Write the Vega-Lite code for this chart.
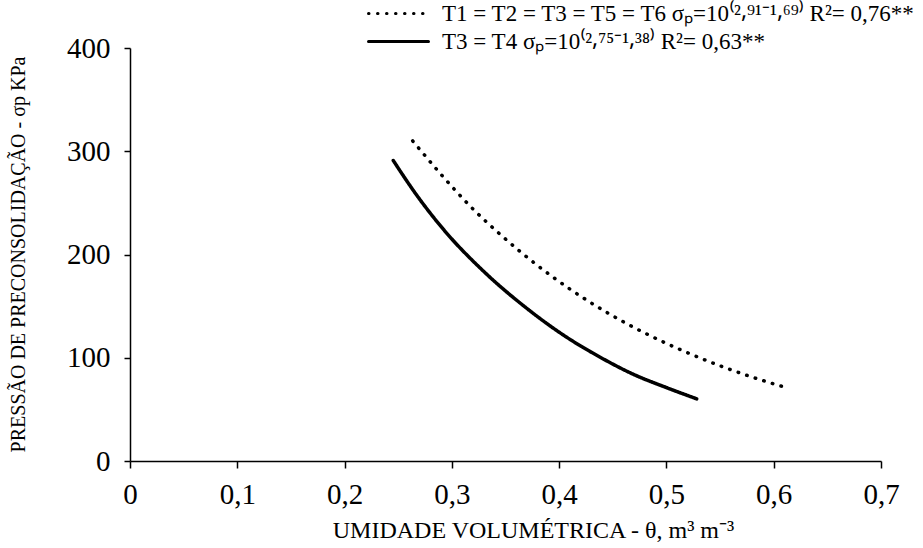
{
  "$schema": "https://vega.github.io/schema/vega-lite/v6.json",
  "width": 751,
  "height": 413,
  "autosize": {"type": "none"},
  "padding": {"left": 130, "top": 48, "right": 42, "bottom": 87},
  "background": "white",
  "config": {
    "view": {"stroke": null},
    "font": "Liberation Serif",
    "legend": {"labelFont": "Liberation Serif"},
    "axis": {"grid": false, "domainColor": "black", "tickColor": "black", "labelColor": "black", "titleColor": "black", "labelFont": "Liberation Serif", "titleFont": "Liberation Serif", "titleFontWeight": "normal", "domainWidth": 1.5, "tickWidth": 1.5}
  },
  "data": {
    "values": [
      {"theta": 0.2635, "sp": 310, "s": "T1 = T2 = T3 = T5 = T6 σₚ=10⁽²⸴⁹¹⁻¹⸴⁶⁹⁾ R²= 0,76**"},
      {"theta": 0.2896, "sp": 278, "s": "T1 = T2 = T3 = T5 = T6 σₚ=10⁽²⸴⁹¹⁻¹⸴⁶⁹⁾ R²= 0,76**"},
      {"theta": 0.3169, "sp": 247, "s": "T1 = T2 = T3 = T5 = T6 σₚ=10⁽²⸴⁹¹⁻¹⸴⁶⁹⁾ R²= 0,76**"},
      {"theta": 0.3467, "sp": 218, "s": "T1 = T2 = T3 = T5 = T6 σₚ=10⁽²⸴⁹¹⁻¹⸴⁶⁹⁾ R²= 0,76**"},
      {"theta": 0.3778, "sp": 191, "s": "T1 = T2 = T3 = T5 = T6 σₚ=10⁽²⸴⁹¹⁻¹⸴⁶⁹⁾ R²= 0,76**"},
      {"theta": 0.4108, "sp": 166, "s": "T1 = T2 = T3 = T5 = T6 σₚ=10⁽²⸴⁹¹⁻¹⸴⁶⁹⁾ R²= 0,76**"},
      {"theta": 0.4449, "sp": 143.6, "s": "T1 = T2 = T3 = T5 = T6 σₚ=10⁽²⸴⁹¹⁻¹⸴⁶⁹⁾ R²= 0,76**"},
      {"theta": 0.4803, "sp": 123.7, "s": "T1 = T2 = T3 = T5 = T6 σₚ=10⁽²⸴⁹¹⁻¹⸴⁶⁹⁾ R²= 0,76**"},
      {"theta": 0.5173, "sp": 105.9, "s": "T1 = T2 = T3 = T5 = T6 σₚ=10⁽²⸴⁹¹⁻¹⸴⁶⁹⁾ R²= 0,76**"},
      {"theta": 0.5546, "sp": 90.4, "s": "T1 = T2 = T3 = T5 = T6 σₚ=10⁽²⸴⁹¹⁻¹⸴⁶⁹⁾ R²= 0,76**"},
      {"theta": 0.5934, "sp": 76.8, "s": "T1 = T2 = T3 = T5 = T6 σₚ=10⁽²⸴⁹¹⁻¹⸴⁶⁹⁾ R²= 0,76**"},
      {"theta": 0.6127, "sp": 70.8, "s": "T1 = T2 = T3 = T5 = T6 σₚ=10⁽²⸴⁹¹⁻¹⸴⁶⁹⁾ R²= 0,76**"},
      {"theta": 0.2454, "sp": 291, "s": "T3 = T4 σₚ=10⁽²⸴⁷⁵⁻¹⸴³⁸⁾ R²= 0,63**"},
      {"theta": 0.2672, "sp": 257.5, "s": "T3 = T4 σₚ=10⁽²⸴⁷⁵⁻¹⸴³⁸⁾ R²= 0,63**"},
      {"theta": 0.292, "sp": 224.5, "s": "T3 = T4 σₚ=10⁽²⸴⁷⁵⁻¹⸴³⁸⁾ R²= 0,63**"},
      {"theta": 0.3293, "sp": 184, "s": "T3 = T4 σₚ=10⁽²⸴⁷⁵⁻¹⸴³⁸⁾ R²= 0,63**"},
      {"theta": 0.3666, "sp": 150.5, "s": "T3 = T4 σₚ=10⁽²⸴⁷⁵⁻¹⸴³⁸⁾ R²= 0,63**"},
      {"theta": 0.4039, "sp": 122, "s": "T3 = T4 σₚ=10⁽²⸴⁷⁵⁻¹⸴³⁸⁾ R²= 0,63**"},
      {"theta": 0.4412, "sp": 98.8, "s": "T3 = T4 σₚ=10⁽²⸴⁷⁵⁻¹⸴³⁸⁾ R²= 0,63**"},
      {"theta": 0.4691, "sp": 84, "s": "T3 = T4 σₚ=10⁽²⸴⁷⁵⁻¹⸴³⁸⁾ R²= 0,63**"},
      {"theta": 0.5002, "sp": 71, "s": "T3 = T4 σₚ=10⁽²⸴⁷⁵⁻¹⸴³⁸⁾ R²= 0,63**"},
      {"theta": 0.5282, "sp": 60.2, "s": "T3 = T4 σₚ=10⁽²⸴⁷⁵⁻¹⸴³⁸⁾ R²= 0,63**"}
    ]
  },
  "mark": {"type": "line", "interpolate": "monotone", "color": "black", "strokeWidth": 3.5, "strokeCap": "round"},
  "encoding": {
    "x": {
      "field": "theta", "type": "quantitative",
      "scale": {"domain": [0, 0.7], "nice": false, "zero": true},
      "axis": {"values": [0, 0.1, 0.2, 0.3, 0.4, 0.5, 0.6, 0.7], "labelExpr": "datum.value == 0 ? '0' : replace(format(datum.value, '.1f'), '.', ',')", "labelFlush": false, "labelFontSize": 29, "tickSize": 7, "labelPadding": 12, "title": "UMIDADE VOLUMÉTRICA - θ, m³ m⁻³", "titleFontSize": 24, "titleX": 403, "titleY": 76, "titleBaseline": "alphabetic", "titleAlign": "center"}
    },
    "y": {
      "field": "sp", "type": "quantitative",
      "scale": {"domain": [0, 400], "nice": false},
      "axis": {"values": [0, 100, 200, 300, 400], "labelFontSize": 29, "tickSize": 6, "labelPadding": 14, "title": "PRESSÃO DE PRECONSOLIDAÇÃO - σp KPa", "titleFontSize": 20, "titleX": -112, "titleY": 206, "titleBaseline": "middle", "titleAlign": "center", "titleAngle": -90}
    },
    "strokeDash": {
      "field": "s", "type": "nominal",
      "scale": {"domain": ["T1 = T2 = T3 = T5 = T6 σₚ=10⁽²⸴⁹¹⁻¹⸴⁶⁹⁾ R²= 0,76**", "T3 = T4 σₚ=10⁽²⸴⁷⁵⁻¹⸴³⁸⁾ R²= 0,63**"], "range": [[0.5, 8.5], [1, 0]]},
      "legend": {
        "title": null, "orient": "none", "legendX": 257, "legendY": -46, "padding": 0,
        "symbolType": "M-3,0H3", "symbolSize": 400, "symbolStrokeWidth": 3, "symbolStrokeColor": "black", "symbolFillColor": "transparent",
        "labelFontSize": 23, "labelFont": "Liberation Serif", "labelColor": "black", "labelLimit": 0, "labelOffset": 32, "rowPadding": 4,
        "encode": {"symbols": {"update": {"strokeCap": {"value": "round"}}}}
      }
    }
  }
}
